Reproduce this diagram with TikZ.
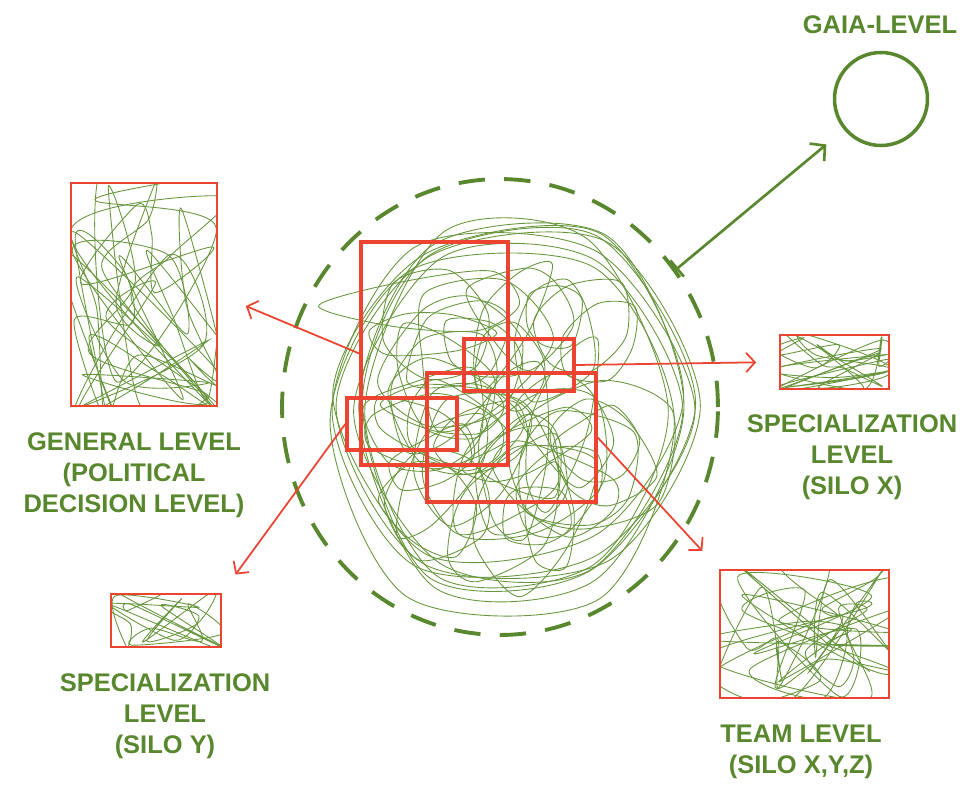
\documentclass[tikz,border=0pt]{standalone}
\usepackage{fontspec}
\setsansfont{Liberation Sans}
\usetikzlibrary{arrows.meta,shapes.geometric,fit,positioning}

\definecolor{lvlgreen}{RGB}{88,135,45}
\definecolor{scribgreen}{RGB}{104,150,62}
\definecolor{lvlred}{RGB}{236,68,48}

% random scribbles clipped into a box: x0, y0, width, height, count
\newcommand{\scribblebox}[5]{%
  \begin{scope}
    \clip (#1,#2) rectangle ++(#3,#4);
    \foreach \k in {1,...,#5}{
      \draw[scribble] plot[smooth cycle, samples=5, domain=0:4]
        ({#1-0.1*#3+1.2*#3*rnd},{#2-0.1*#4+1.2*#4*rnd});
    }
  \end{scope}}

\begin{document}
\begin{tikzpicture}
                    [x=0.02cm,y=-0.02cm,
                     scribble/.style={draw=scribgreen,line width=0.5pt},
                     lvlbox/.style={draw=lvlred,line width=1.2pt,inner sep=0pt},
                     corebox/.style={draw=lvlred,line width=1.9pt,inner sep=0pt},
                     cloud/.style={ellipse,draw=lvlgreen,line width=2.2pt,dash pattern=on 15pt off 11pt,inner sep=0pt},
                     gaiaring/.style={circle,draw=lvlgreen,line width=2pt,minimum size=1.86cm,inner sep=0pt},
                     lbl/.style={text=lvlgreen,font=\sffamily\bfseries\fontsize{14.5}{17.5}\selectfont,align=center},
                     redarrow/.style={draw=lvlred,line width=1pt,-{Straight Barb[length=5pt,width=11pt]}},
                     gaiaarrow/.style={draw=lvlgreen,line width=1.5pt,{Bar[width=12pt]}-{Straight Barb[length=6pt,width=13pt]}}]

                    \useasboundingbox (0,0) rectangle (974,785);
                    \pgfmathsetseed{11}

                    % tangle in the middle
                    \foreach \k in {1,...,8}{
                        \pgfmathsetmacro\cx{508+15*rand}
                        \pgfmathsetmacro\cy{408+15*rand}
                        \pgfmathsetmacro\rx{150+35*rnd}
                        \pgfmathsetmacro\ry{165+40*rnd}
                        \draw[scribble] plot[smooth cycle,samples=6,domain=0:300]
                            ({\cx+\rx*(1+0.1*rand)*cos(\x)},{\cy+\ry*(1+0.1*rand)*sin(\x)});
                    }
                    \foreach \k in {1,...,46}{
                        \pgfmathsetmacro\cx{508+95*rand}
                        \pgfmathsetmacro\cy{410+110*rand}
                        \pgfmathsetmacro\rx{25+65*rnd}
                        \pgfmathsetmacro\ry{25+65*rnd}
                        \pgfmathsetmacro\ang{180*rnd}
                        \draw[scribble,rotate around={\ang:(\cx,\cy)}] plot[smooth cycle,samples=6,domain=0:300]
                            ({\cx+\rx*(1+0.3*rand)*cos(\x)},{\cy+\ry*(1+0.3*rand)*sin(\x)});
                    }

                    % tangles in the level boxes
                    \scribblebox{71}{183}{146}{223}{14}
                    \scribblebox{111}{594}{110}{53}{5}
                    \scribblebox{780}{335}{109}{54}{7}
                    \scribblebox{720}{570}{169}{128}{13}

                    \node[cloud,minimum width=8.72cm,minimum height=9.12cm] (cloud) at (500,407) {};

                    \node[corebox,fit={(361,242) (508,465)}] (genC) {};
                    \node[corebox,fit={(464,339) (574,391)}] (siloXC) {};
                    \node[corebox,fit={(427,373) (596,502)}] (teamC) {};
                    \node[corebox,fit={(347,398) (457,450)}] (siloYC) {};

                    \node[lvlbox,line width=1.5pt,fit={(71,183) (217,406)}] (gen) {};
                    \node[lvlbox,fit={(111,594) (221,647)}] (siloY) {};
                    \node[lvlbox,fit={(780,335) (889,389)}] (siloX) {};
                    \node[lvlbox,fit={(720,570) (889,698)}] (team) {};
                    \node[gaiaring] (gaia) at (881,99) {};

                    \node[lbl] (gaiaT) at (880,25) {GAIA-LEVEL};
                    \node[lbl] (genT) at (134,475) {GENERAL LEVEL\\(POLITICAL\\DECISION LEVEL)};
                    \node[lbl] (siloYT) at (165,716) {SPECIALIZATION\\LEVEL\\(SILO Y)};
                    \node[lbl] (siloXT) at (852,457) {SPECIALIZATION\\LEVEL\\(SILO X)};
                    \node[lbl] (teamT) at (801,752) {TEAM LEVEL\\(SILO X,Y,Z)};

                    \draw[redarrow,shorten >=17pt] (genC.west) -- (gen.east);
                    \draw[redarrow,shorten >=13pt] (siloXC.east) -- (siloX.west);
                    \draw[redarrow,shorten >=14pt] (teamC.east) -- (team.north west);
                    \draw[redarrow,shorten >=13pt] (siloYC.west) -- (siloY.north east);
                    \draw[gaiaarrow,shorten >=13pt] (cloud.38) -- (gaia);

                \end{tikzpicture}
\end{document}
